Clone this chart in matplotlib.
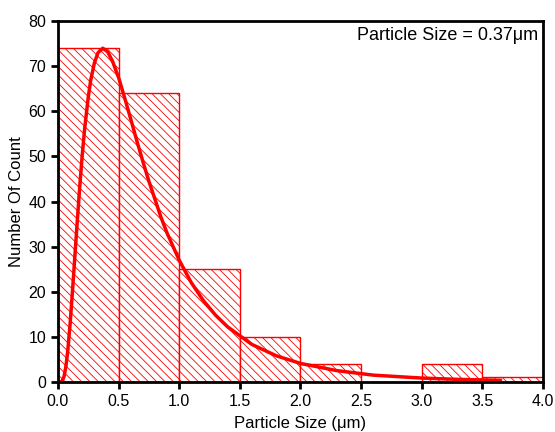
import numpy as np
import matplotlib
matplotlib.use("Agg")
import matplotlib.pyplot as plt

plt.rcParams['font.family'] = ['Liberation Sans', 'DejaVu Sans']
plt.rcParams['hatch.color'] = '#ff4d4d'
plt.rcParams['hatch.linewidth'] = 0.6

# histogram bins (left edges, width 0.5 um) and counts
bin_left = [0.0, 0.5, 1.0, 1.5, 2.0, 2.5, 3.0, 3.5]
counts = [74, 64, 25, 10, 4, 0, 4, 1]

# fitted distribution curve
fit_x = [0.02, 0.035, 0.05, 0.065, 0.08, 0.10, 0.12, 0.14, 0.16, 0.18,
         0.20, 0.22, 0.25, 0.27, 0.30, 0.33, 0.37, 0.41, 0.45, 0.50,
         0.55, 0.60, 0.65, 0.70, 0.75, 0.85, 0.90, 1.00, 1.10, 1.20,
         1.30, 1.40, 1.60, 1.80, 2.00, 2.30, 2.60, 3.00, 3.30, 3.65]
fit_y = [0.0, 0.25, 1.2, 3.4, 6.7, 12.9, 20.3, 28.2, 36.0, 43.5,
         50.3, 56.2, 63.2, 66.9, 70.7, 73.0, 74.0, 73.2, 71.1, 67.5,
         63.0, 58.3, 53.5, 48.9, 44.5, 36.5, 33.0, 27.0, 22.0, 18.0,
         14.8, 12.2, 8.3, 5.8, 4.1, 2.5, 1.5, 0.85, 0.56, 0.35]

fig = plt.figure(figsize=(5.55, 4.32), dpi=100)
ax = fig.add_axes([0.1045, 0.116, 0.8735, 0.835])

ax.bar(bin_left, counts, width=0.5, align='edge', facecolor='white',
       edgecolor='red', linewidth=1.0, hatch='\\\\\\\\')
ax.plot(fit_x, fit_y, color='red', linewidth=2.5, solid_joinstyle='round')

ax.set_xlim(0, 4.0)
ax.set_ylim(0, 80)
ax.set_xticks(np.arange(0, 4.01, 0.5))
ax.set_xticklabels([f"{v:.1f}" for v in np.arange(0, 4.01, 0.5)])
ax.set_yticks(np.arange(0, 81, 10))

for s in ax.spines.values():
    s.set_linewidth(2.0)
ax.tick_params(direction='out', length=5, width=2, labelsize=11.5)

ax.set_xlabel('Particle Size (\u03bcm)', fontsize=12, labelpad=5)
ax.set_ylabel('Number Of Count', fontsize=12, labelpad=3)

ax.text(0.99, 0.985, 'Particle Size = 0.37\u03bcm', transform=ax.transAxes,
        ha='right', va='top', fontsize=13)

fig.savefig('out.png', dpi=100)
